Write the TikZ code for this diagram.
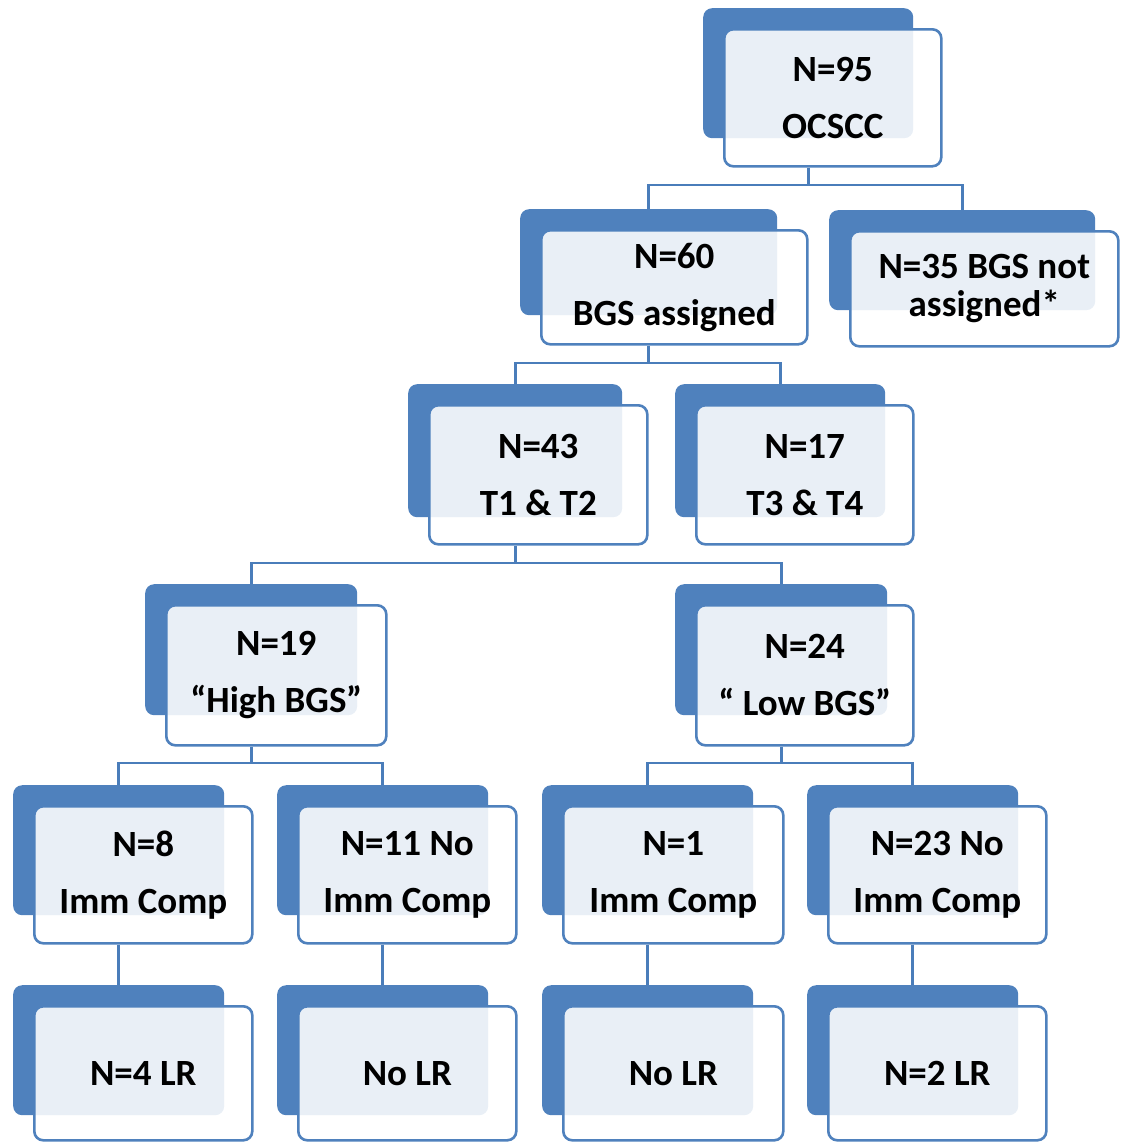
\documentclass[tikz,border=0pt]{standalone}
\usepackage{fontspec}
\setmainfont{Carlito}
\definecolor{bblue}{HTML}{4F81BD}
\definecolor{lblue}{HTML}{4A7DBA}
\tikzset{
  backbox/.style={fill=bblue, rounded corners=9pt, inner sep=0pt, anchor=north west},
  frontbox/.style={draw=bblue, line width=2.6pt, fill=white, fill opacity=0.88, text opacity=1,
    rounded corners=9pt, inner sep=0pt, anchor=north west, align=center,
    font=\fontsize{37}{57}\selectfont\bfseries},
  conn/.style={draw=lblue, line width=2.8pt}
}
\newcommand\pairbox[9]{%
  \node[backbox, minimum width=#4pt, minimum height=#5pt] (#1b) at (#2,-#3) {};
  \node[frontbox, minimum width=#6pt, minimum height=#7pt, #8] (#1) at (#2+20,-#3-20) {#9};
}
\begin{document}
\begin{tikzpicture}[x=1pt,y=1pt]
\useasboundingbox (0,0) rectangle (1124,-1143);
% boxes
\pairbox{A}{703}{8}{210}{130}{217}{137}{}{N=95\\OCSCC}
\pairbox{B}{520}{209}{257}{106}{266}{114}{}{N=60\\BGS assigned}
\pairbox{C}{829}{210}{266}{100}{268}{115}{font=\fontsize{37}{38}\selectfont\bfseries}{N=35 BGS not\\assigned*}
\pairbox{D}{408}{384}{214}{133}{218}{139}{}{N=43\\T1 \& T2}
\pairbox{E}{675}{384}{210}{133}{217}{139}{}{N=17\\T3 \& T4}
\pairbox{F}{145}{584}{212}{131}{220}{140}{}{N=19\\“High BGS”}
\pairbox{G}{675}{584}{212}{131}{217}{140}{}{N=24\\“ Low BGS”}
\pairbox{H}{13}{785}{211}{130}{218}{137}{}{N=8\\Imm Comp}
\pairbox{I}{277}{785}{211}{130}{218}{137}{}{N=11 No\\Imm Comp}
\pairbox{J}{542}{785}{211}{130}{220}{137}{}{N=1\\Imm Comp}
\pairbox{K}{807}{785}{211}{130}{218}{137}{}{N=23 No\\Imm Comp}
\pairbox{L}{13}{985}{211}{130}{218}{134}{}{N=4 LR}
\pairbox{M}{277}{985}{211}{130}{218}{134}{}{No LR}
\pairbox{N}{542}{985}{211}{130}{220}{134}{}{No LR}
\pairbox{O}{807}{985}{211}{130}{218}{134}{}{N=2 LR}
% junctions
\coordinate (jA) at (Ab.center |- 0,-185);
\coordinate (jB) at (Bb.center |- 0,-363);
\coordinate (jD) at (Db.center |- 0,-563);
\coordinate (jF) at (Fb.center |- 0,-763);
\coordinate (jG) at (Gb.center |- 0,-763);
% connectors
\draw[conn] (Ab.center |- A.south) -- (jA);
\draw[conn] (Bb.north) |- (jA) -| (Cb.north);
\draw[conn] (Bb.center |- B.south) -- (jB);
\draw[conn] (Db.north) |- (jB) -| (Eb.north);
\draw[conn] (Db.center |- D.south) -- (jD);
\draw[conn] (Fb.north) |- (jD) -| (Gb.north);
\draw[conn] (Fb.center |- F.south) -- (jF);
\draw[conn] (Hb.north) |- (jF) -| (Ib.north);
\draw[conn] (Gb.center |- G.south) -- (jG);
\draw[conn] (Jb.north) |- (jG) -| (Kb.north);
\draw[conn] (Hb.center |- H.south) -- (Lb.north);
\draw[conn] (Ib.center |- I.south) -- (Mb.north);
\draw[conn] (Jb.center |- J.south) -- (Nb.north);
\draw[conn] (Kb.center |- K.south) -- (Ob.north);
\end{tikzpicture}
\end{document}
